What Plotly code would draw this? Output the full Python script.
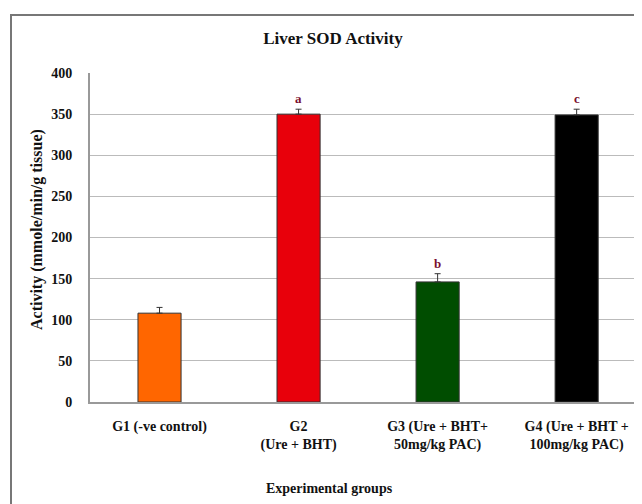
import plotly.graph_objects as go

groups = ["G1 (-ve control)", "G2<br>(Ure + BHT)", "G3 (Ure + BHT+<br>50mg/kg PAC)", "G4 (Ure + BHT +<br>100mg/kg PAC)"]
activity = [108, 350, 146, 349]
errors = [7, 6, 10, 7]
colors = ["#FF6600", "#E8000B", "#004D00", "#000000"]
letters = ["", "a", "b", "c"]
yticks = [0, 50, 100, 150, 200, 250, 300, 350, 400]

OFF = 8  # page body margin
W, H = 642 - OFF, 504 - OFF
L, T = 90 - OFF, 73 - OFF
B = H - (402 - OFF)
serif = "Liberation Serif"


def px_x(page_x):
    return (page_x - OFF - L) / (W - L)


def px_y(page_y):
    return ((H - B) - (page_y - OFF)) / (H - T - B)


fig = go.Figure()
fig.add_trace(go.Bar(
    x=list(range(len(groups))), y=activity,
    marker=dict(color=colors, line=dict(color="#333333", width=1)),
    width=0.31,
    error_y=dict(type="data", array=errors, symmetric=False, arrayminus=[0]*4,
                 color="#333333", thickness=1, width=3),
    showlegend=False,
))

for i, (v, e, t) in enumerate(zip(activity, errors, letters)):
    if t:
        fig.add_annotation(x=i, y=v + e, text=t, showarrow=False,
                           yanchor="bottom", yshift=1,
                           font=dict(family=serif, size=13, color="#7A1030", weight="bold"))

fig.add_shape(type="rect", xref="paper", yref="paper",
              x0=px_x(11), x1=px_x(670), y0=px_y(15), y1=px_y(560),
              line=dict(color="#777777", width=2), fillcolor="rgba(0,0,0,0)", layer="below")

fig.add_annotation(xref="paper", yref="paper", x=px_x(329), y=px_y(488),
                   text="Experimental groups", showarrow=False, xanchor="center", yanchor="middle",
                   font=dict(family=serif, size=14, color="#111111", weight="bold"))
fig.add_annotation(xref="paper", yref="paper", x=px_x(37), y=px_y(230),
                   text="Activity (mmole/min/g tissue)", textangle=-90, showarrow=False,
                   xanchor="center", yanchor="middle",
                   font=dict(family=serif, size=16, color="#111111", weight="bold"))

fig.update_layout(
    width=W, height=H,
    margin=dict(l=L, r=0, t=T, b=B),
    paper_bgcolor="white", plot_bgcolor="white",
    title=dict(text="Liver SOD Activity", x=(333 - OFF) / W, xanchor="center",
               y=1 - (38 - OFF) / H, yanchor="middle",
               font=dict(family=serif, size=17, color="#111111", weight="bold")),
    xaxis=dict(tickmode="array", tickvals=list(range(len(groups))), ticktext=groups,
               range=[-0.5, 3.47], showline=True, linecolor="#999999", linewidth=2,
               ticks="", automargin=False, ticklabelstandoff=10,
               tickfont=dict(family=serif, size=14, color="#111111", weight="bold")),
    yaxis=dict(range=[0, 400], tickvals=yticks, showline=True, linecolor="#999999", linewidth=2,
               gridcolor="#BBBBBB", gridwidth=1, ticks="", ticklabelstandoff=13, automargin=False,
               tickfont=dict(family=serif, size=14, color="#111111", weight="bold")),
)

fig.write_html("out.html")
